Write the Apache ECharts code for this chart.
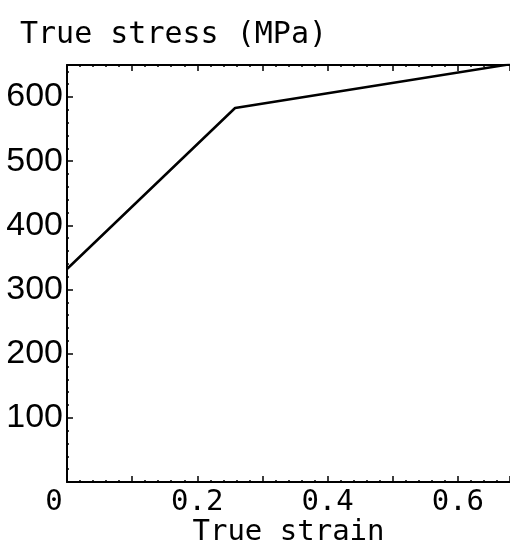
<!DOCTYPE html>
<html>
<head>
<meta charset="utf-8">
<script src="https://cdn.jsdelivr.net/npm/echarts@6/dist/echarts.min.js"></script>
<style>html,body{margin:0;padding:0;background:#fff;}#c{width:510px;height:546px;}</style>
</head>
<body>
<div id="c"></div>
<script>
var strain = [0, 0.258, 0.68];
var stress = [332, 583, 651];
var xTickLabels = ['0', '0.2', '0.4', '0.6'];
var yTickLabels = ['100', '200', '300', '400', '500', '600'];

var chart = echarts.init(document.getElementById('c'));
var mono = 'DejaVu Sans Mono';
function fmtX(v) {
  var s = (Math.round(v * 10) / 10).toString();
  if (s === '0') return '{z|0}';
  return xTickLabels.indexOf(s) >= 0 ? s : '';
}
function fmtY(v) {
  var s = String(Math.round(v));
  return yTickLabels.indexOf(s) >= 0 ? s : '';
}
var axisLine = {show: true, lineStyle: {color: '#000', width: 2}};
chart.setOption({
  animation: false,
  backgroundColor: '#fff',
  title: {
    text: 'True stress (MPa)', left: 15, top: 15,
    textStyle: {fontFamily: mono, fontSize: 30, fontWeight: 'normal', color: '#000'}
  },
  grid: {left: 67, top: 65, right: 0, bottom: 64, containLabel: false, outerBoundsMode: 'none'},
  xAxis: [{
    type: 'value', min: 0, max: 0.68, interval: 0.1,
    name: 'True strain', nameLocation: 'middle', nameGap: 36, nameMoveOverlap: false,
    nameTextStyle: {fontFamily: mono, fontSize: 29, color: '#000', verticalAlign: 'top'},
    axisLine: axisLine,
    axisTick: {show: true, inside: true, length: 6, lineStyle: {color: '#000', width: 1.5}},
    minorTick: {show: true, splitNumber: 5, length: 2, lineStyle: {color: '#000', width: 1.5}},
    splitLine: {show: false},
    axisLabel: {
      formatter: fmtX, showMaxLabel: false, margin: 6,
      fontFamily: mono, fontSize: 29, color: '#000',
      rich: {z: {fontFamily: mono, fontSize: 29, color: '#000', padding: [0, 26, 0, 0]}}
    }
  }, {
    type: 'value', position: 'top', min: 0, max: 0.68, interval: 0.1,
    axisLine: axisLine,
    axisTick: {show: true, inside: true, length: 6, lineStyle: {color: '#000', width: 1.5}},
    minorTick: {show: true, splitNumber: 5, length: 2, lineStyle: {color: '#000', width: 1.5}},
    splitLine: {show: false},
    axisLabel: {show: false}
  }],
  yAxis: {
    type: 'value', min: 0, max: 650, interval: 100,
    axisLine: axisLine,
    axisTick: {show: true, inside: true, length: 6, lineStyle: {color: '#000', width: 1.5}},
    minorTick: {show: true, splitNumber: 5, length: 2, lineStyle: {color: '#000', width: 1.5}},
    splitLine: {show: false},
    axisLabel: {
      formatter: fmtY, showMaxLabel: false, margin: 4,
      fontFamily: 'Liberation Sans', fontSize: 34, color: '#000'
    }
  },
  series: [{
    type: 'line',
    data: strain.map(function (x, i) { return [x, stress[i]]; }),
    showSymbol: false, symbol: 'none',
    lineStyle: {color: '#000', width: 2.5}
  }]
});
</script>
</body>
</html>
